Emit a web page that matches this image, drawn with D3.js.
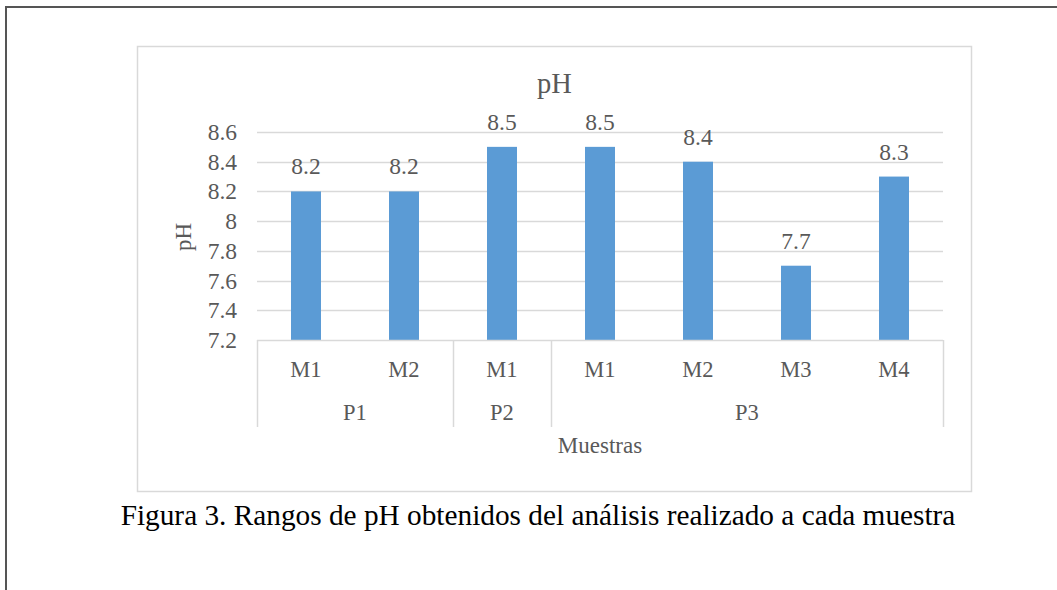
<!DOCTYPE html>
<html><head><meta charset="utf-8">
<script src="https://cdn.jsdelivr.net/npm/d3@7/dist/d3.min.js"></script>
<style>html,body{margin:0;padding:0;background:#fff;}svg{display:block;}</style>
</head><body>
<script>
const samples = ["M1","M2","M1","M1","M2","M3","M4"];
const groups = ["P1","P1","P2","P3","P3","P3","P3"];
const values = [8.2, 8.2, 8.5, 8.5, 8.4, 7.7, 8.3];
const yTicks = [7.2, 7.4, 7.6, 7.8, 8, 8.2, 8.4, 8.6];
const chartTitle = "pH";
const yTitle = "pH";
const xTitle = "Muestras";
const caption = "Figura 3. Rangos de pH obtenidos del análisis realizado a cada muestra";

(function () {
const W = 1057, H = 590;
const svg = d3.select("body").append("svg").attr("width", W).attr("height", H);
const serif = "'Liberation Serif','Times New Roman',serif";
const grey = "#595959";

// outer page border
svg.append("rect").attr("x", 6).attr("y", 7).attr("width", W + 10).attr("height", H + 10)
  .attr("fill", "none").attr("stroke", "#555").attr("stroke-width", 2);

// chart area border
svg.append("rect").attr("x", 137.5).attr("y", 46.5).attr("width", 834).attr("height", 445)
  .attr("fill", "#fff").attr("stroke", "#d9d9d9").attr("stroke-width", 1.5);

const pLeft = 257, pRight = 943, pTop = 132, pBottom = 340;
const idx = d3.range(values.length);
const x = d3.scaleBand().domain(idx).range([pLeft, pRight]).paddingInner(0.694).paddingOuter(0.347);
const y = d3.scaleLinear().domain([7.2, 8.6]).range([pBottom, pTop]);

// gridlines
svg.append("g").selectAll("line").data(yTicks.filter(t => t > 7.2)).join("line")
  .attr("x1", pLeft).attr("x2", pRight)
  .attr("y1", d => Math.round(y(d)) + 0.5).attr("y2", d => Math.round(y(d)) + 0.5)
  .attr("stroke", "#d9d9d9").attr("stroke-width", 1.3);

// y axis labels
const yAxis = d3.axisLeft(y).tickValues(yTicks).tickSize(0).tickPadding(0).tickFormat(d => String(d));
const yg = svg.append("g").attr("transform", `translate(237,0)`).call(yAxis);
yg.select(".domain").remove();
yg.selectAll("text").attr("font-family", serif).attr("font-size", 23.5).attr("fill", grey);

// bars
svg.append("g").selectAll("rect").data(values).join("rect")
  .attr("x", (d, i) => x(i)).attr("width", x.bandwidth())
  .attr("y", d => y(d)).attr("height", d => y(7.2) - y(d))
  .attr("fill", "#5b9bd5");

// data labels
svg.append("g").selectAll("text").data(values).join("text")
  .attr("x", (d, i) => x(i) + x.bandwidth() / 2).attr("y", d => y(d) - 17)
  .attr("text-anchor", "middle").attr("font-family", serif).attr("font-size", 23.5).attr("fill", grey)
  .text(d => d.toFixed(1));

// category axis
const step = x.step();
const catAxis = svg.append("g");
catAxis.append("line").attr("x1", pLeft).attr("x2", pRight).attr("y1", pBottom + 0.5).attr("y2", pBottom + 0.5)
  .attr("stroke", "#d9d9d9").attr("stroke-width", 1.5);

const groupSpans = [];
groups.forEach((g, i) => {
  const last = groupSpans[groupSpans.length - 1];
  if (last && last.name === g) last.end = i;
  else groupSpans.push({ name: g, start: i, end: i });
});
const bounds = [pLeft].concat(groupSpans.map(s => pLeft + (s.end + 1) * step));
catAxis.selectAll("line.sep").data(bounds).join("line").attr("class", "sep")
  .attr("x1", d => Math.round(d) + 0.5).attr("x2", d => Math.round(d) + 0.5)
  .attr("y1", pBottom).attr("y2", 427)
  .attr("stroke", "#d9d9d9").attr("stroke-width", 1.5);

catAxis.selectAll("text.s").data(samples).join("text").attr("class", "s")
  .attr("x", (d, i) => x(i) + x.bandwidth() / 2).attr("y", 377)
  .attr("text-anchor", "middle").attr("font-family", serif).attr("font-size", 22.5).attr("fill", grey)
  .text(d => d);

catAxis.selectAll("text.g").data(groupSpans).join("text").attr("class", "g")
  .attr("x", d => pLeft + (d.start + d.end + 1) / 2 * step).attr("y", 420)
  .attr("text-anchor", "middle").attr("font-family", serif).attr("font-size", 22.5).attr("fill", grey)
  .text(d => d.name);

// axis titles
svg.append("text").attr("x", 600).attr("y", 453).attr("text-anchor", "middle")
  .attr("font-family", serif).attr("font-size", 23).attr("fill", grey).text(xTitle);
svg.append("text").attr("transform", "translate(191,237) rotate(-90)").attr("text-anchor", "middle")
  .attr("font-family", serif).attr("font-size", 23).attr("fill", grey).text(yTitle);

// chart title
svg.append("text").attr("x", 554.5).attr("y", 93).attr("text-anchor", "middle")
  .attr("font-family", serif).attr("font-size", 28.5).attr("fill", grey).text(chartTitle);

// caption
svg.append("text").attr("x", 538).attr("y", 525).attr("text-anchor", "middle")
  .attr("font-family", serif).attr("font-size", 29.3).attr("fill", "#000").text(caption);
})();
</script>
</body></html>
